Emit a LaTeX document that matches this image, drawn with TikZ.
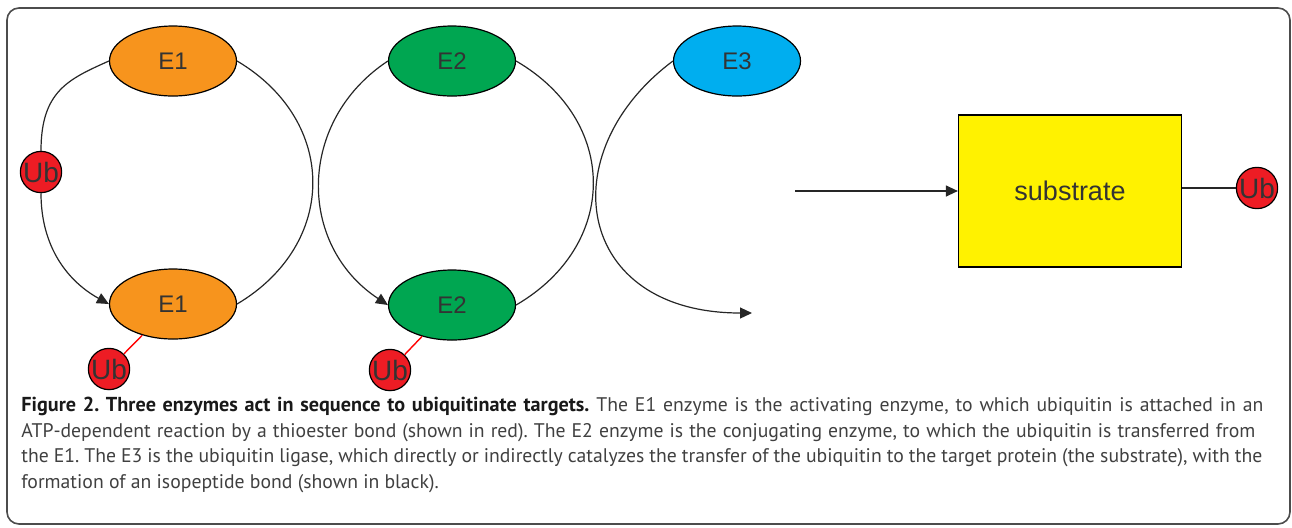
\documentclass[tikz,border=0pt]{standalone}
\usepackage{fontspec}
\newfontfamily\labfont{Liberation Sans}
\newfontfamily\capfont{PT Sans}
\usetikzlibrary{shapes.geometric,arrows.meta}
\definecolor{eorange}{RGB}{247,148,29}
\definecolor{egreen}{RGB}{0,166,81}
\definecolor{eblue}{RGB}{0,174,239}
\definecolor{subyellow}{RGB}{255,242,0}
\definecolor{ubred}{RGB}{237,28,36}
\newcommand{\capline}[2]{\makebox[#1][s]{#2}}
\frenchspacing
\begin{document}
\begin{tikzpicture}[x=0.5pt,y=-0.5pt,
  enzyme/.style={ellipse,draw=black,line width=0.6pt,inner sep=0pt,minimum width=63.5pt,minimum height=35pt,font=\labfont\fontsize{12}{12}\selectfont,text=black!80},
  ubq/.style={circle,draw=black,line width=0.6pt,fill=ubred,inner sep=0pt,minimum size=20pt,font=\labfont\fontsize{14}{14}\selectfont,text=black!80},
  link/.style={draw=black!85,line width=0.6pt},
  tip/.style={-{Triangle[length=6pt,width=5.5pt]}},
  bond/.style={draw=red,line width=0.7pt}]
\useasboundingbox (0,0) rectangle (1292,527);
\draw[black!70,line width=0.8pt,rounded corners=6pt] (7,8) rectangle (1290,524);
\node[enzyme,fill=eorange] (e1t) at (173,61) {E1};
\node[enzyme,fill=eorange] (e1b) at (173,304) {E1};
\node[enzyme,fill=egreen] (e2t) at (452,61) {E2};
\node[enzyme,fill=egreen] (e2b) at (452,305) {E2};
\node[enzyme,fill=eblue] (e3) at (737,61) {E3};
\node[ubq] (ub1) at (41,172) {Ub};
\node[ubq] (ub2) at (109,369) {Ub};
\node[ubq] (ub3) at (390,370) {Ub};
\node[draw=black,line width=0.6pt,fill=subyellow,inner sep=0pt,minimum width=111.5pt,minimum height=76pt,font=\labfont\fontsize{13.5}{13.5}\selectfont,text=black!80] (sub) at (1070,191) {substrate};
\node[ubq] (ub4) at (1257,188) {Ub};
\coordinate (e3end) at (752,313);
\coordinate (subin) at (795,191);
\draw[link] (e1t.west) .. controls +(-40,18) and +(0,-60) .. (ub1.north);
\draw[link,tip] (ub1.south) .. controls +(0,55) and +(-40,-22) .. (e1b.west);
\draw[link] (e1t.east) .. controls +(101,60) and +(101,-60) .. (e1b.east);
\draw[link,tip] (e2t.west) .. controls +(-91,60) and +(-91,-60) .. (e2b.west);
\draw[link] (e2t.east) .. controls +(103,60) and +(103,-60) .. (e2b.east);
\draw[link,tip] (e3.west) .. controls +(-123,92) and +(-177,0) .. (e3end);
\draw[link,tip] (subin) -- (sub.west);
\draw[link] (sub.east |- ub4) -- (ub4);
\draw[bond] (e1b) -- (ub2);
\draw[bond] (e2b) -- (ub3);
\node[anchor=base west,align=left,inner sep=0pt,font=\capfont\fontsize{9.85}{12.75}\selectfont,text=black!75] (cap) at (21,488)
  {\capline{621pt}{\textcolor{black!90}{\fontsize{10.1}{12.75}\selectfont\bfseries Figure 2. Three enzymes act in sequence to ubiquitinate targets.} The E1 enzyme is the activating enzyme, to which ubiquitin is attached in an}\\
   \capline{617pt}{ATP-dependent reaction by a thioester bond (shown in red). The E2 enzyme is the conjugating enzyme, to which the ubiquitin is transferred from}\\
   \capline{620.5pt}{the E1. The E3 is the ubiquitin ligase, which directly or indirectly catalyzes the transfer of the ubiquitin to the target protein (the substrate), with the}\\
   formation of an isopeptide bond (shown in black).};
\end{tikzpicture}
\end{document}
